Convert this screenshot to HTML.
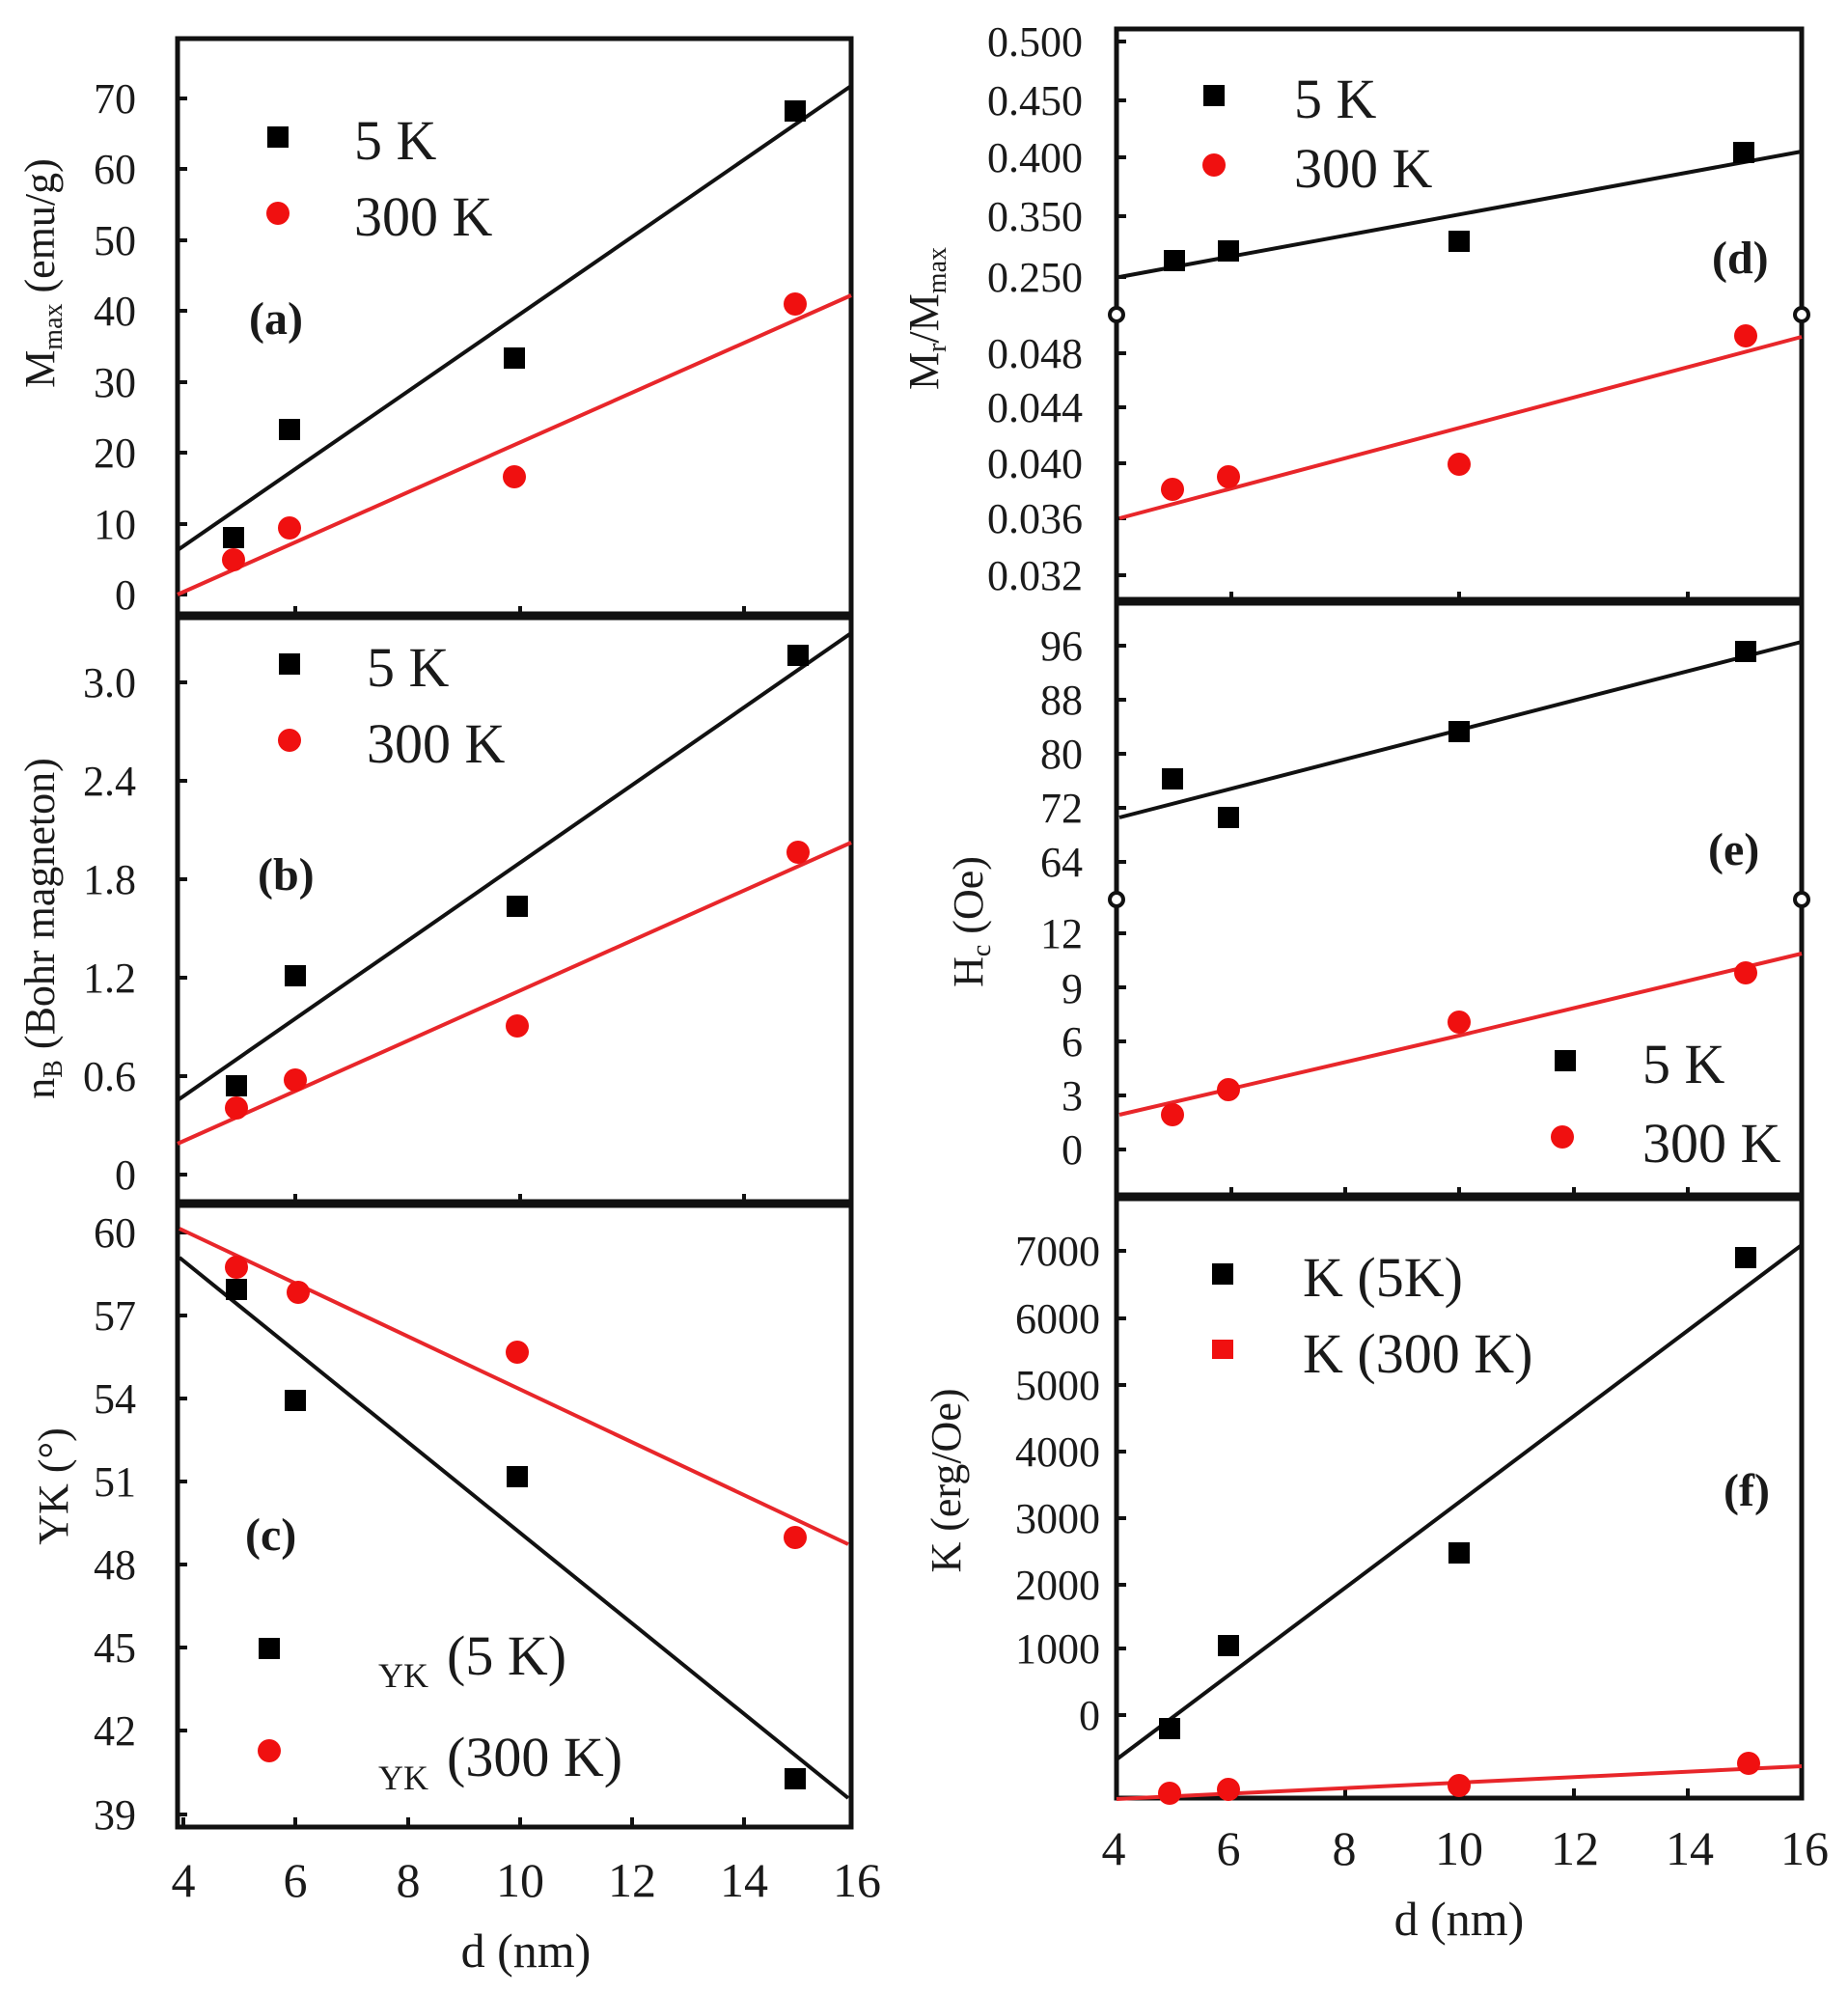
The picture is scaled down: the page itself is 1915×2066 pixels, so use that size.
<!DOCTYPE html>
<html><head><meta charset="utf-8"><style>
html,body{margin:0;padding:0;background:#fff;}
svg{display:block;}
text{font-family:"Liberation Serif",serif;fill:#1a1a1a;}
.t{font-size:44px;text-anchor:end;}
.x{font-size:50px;text-anchor:middle;}
.lg{font-size:58px;}
.pl{font-size:48px;font-weight:bold;}
.ti{font-size:44px;text-anchor:middle;}
</style></head><body>
<svg width="1915" height="2066" viewBox="0 0 1915 2066" xmlns="http://www.w3.org/2000/svg">
<rect width="1915" height="2066" fill="#fff"/>
<g fill="none" stroke="#111">
<!-- left column frames -->
<rect x="184" y="40" width="698" height="1853" stroke-width="5"/>
<line x1="184" y1="638" x2="882" y2="638" stroke-width="9"/>
<line x1="184" y1="1247" x2="882" y2="1247" stroke-width="9"/>
<!-- right column frames -->
<rect x="1157" y="30" width="710" height="1833" stroke-width="5"/>
<line x1="1157" y1="623" x2="1867" y2="623" stroke-width="9"/>
<line x1="1157" y1="1240" x2="1867" y2="1240" stroke-width="9"/>
</g>
<!-- ticks -->
<g stroke="#111" stroke-width="4">
<path d="M184 102h10M184 175h10M184 249h10M184 322h10M184 396h10M184 469h10M184 543h10M184 616h10"/>
<path d="M184 707h10M184 809h10M184 911h10M184 1013h10M184 1115h10M184 1217h10"/>
<path d="M184 1277h10M184 1363h10M184 1449h10M184 1535h10M184 1621h10M184 1707h10M184 1793h10M184 1880h10"/>
<path d="M190 1893v-10M306 1893v-10M423 1893v-10M539 1893v-10M655 1893v-10M771 1893v-10M306 1247v-10M539 1247v-10M771 1247v-10M306 638v-10M539 638v-10M771 638v-10"/>
<path d="M1157 43h10M1157 104h10M1157 163h10M1157 224h10M1157 287h10M1157 366h10M1157 422h10M1157 480h10M1157 537h10M1157 596h10"/>
<path d="M1157 669h10M1157 725h10M1157 781h10M1157 837h10M1157 893h10M1157 967h10M1157 1023h10M1157 1079h10M1157 1135h10M1157 1191h10"/>
<path d="M1157 1296h10M1157 1366h10M1157 1435h10M1157 1504h10M1157 1573h10M1157 1642h10M1157 1708h10M1157 1777h10"/>
<path d="M1276 1863v-10M1394 1863v-10M1512 1863v-10M1631 1863v-10M1749 1863v-10M1276 1240v-10M1394 1240v-10M1512 1240v-10M1631 1240v-10M1749 1240v-10M1276 623v-10M1512 623v-10M1749 623v-10"/>
</g>
<!-- break markers -->
<g fill="#fff" stroke="#111" stroke-width="4">
<circle cx="1157" cy="326" r="7"/><circle cx="1867" cy="326" r="7"/>
<circle cx="1157" cy="932" r="7"/><circle cx="1867" cy="932" r="7"/>
</g>

<!-- Panel (a) -->
<line x1="184" y1="570" x2="882" y2="89" stroke="#111" stroke-width="4"/>
<line x1="184" y1="616" x2="882" y2="306" stroke="#e8262a" stroke-width="4"/>
<g fill="#000"><rect x="231" y="546" width="22" height="22"/><rect x="289" y="434" width="22" height="22"/><rect x="522" y="360" width="22" height="22"/><rect x="813" y="104" width="22" height="22"/><rect x="277" y="131" width="22" height="22"/></g>
<g fill="#f01010"><circle cx="242" cy="580" r="12"/><circle cx="300" cy="547" r="12"/><circle cx="533" cy="494" r="12"/><circle cx="824" cy="315" r="12"/><circle cx="288" cy="221" r="12"/></g>
<text class="lg" x="367" y="165">5 K</text><text class="lg" x="367" y="244">300 K</text>
<text class="pl" x="258" y="346">(a)</text>
<g class="t"><text class="t" x="141" y="117">70</text><text class="t" x="141" y="190">60</text><text class="t" x="141" y="264">50</text><text class="t" x="141" y="337">40</text><text class="t" x="141" y="411">30</text><text class="t" x="141" y="484">20</text><text class="t" x="141" y="558">10</text><text class="t" x="141" y="631">0</text></g>
<text class="ti" transform="translate(56,283) rotate(-90)">M<tspan font-size="28" dy="8">max</tspan><tspan dy="-8"> (emu/g)</tspan></text>

<!-- Panel (b) -->
<line x1="184" y1="1140" x2="882" y2="656" stroke="#111" stroke-width="4"/>
<line x1="184" y1="1185" x2="882" y2="873" stroke="#e8262a" stroke-width="4"/>
<g fill="#000"><rect x="234" y="1114" width="22" height="22"/><rect x="295" y="1000" width="22" height="22"/><rect x="525" y="928" width="22" height="22"/><rect x="816" y="668" width="22" height="22"/><rect x="289" y="677" width="22" height="22"/></g>
<g fill="#f01010"><circle cx="245" cy="1148" r="12"/><circle cx="306" cy="1119" r="12"/><circle cx="536" cy="1063" r="12"/><circle cx="827" cy="883" r="12"/><circle cx="300" cy="767" r="12"/></g>
<text class="lg" x="380" y="711">5 K</text><text class="lg" x="380" y="790">300 K</text>
<text class="pl" x="267" y="922">(b)</text>
<text class="t" x="141" y="722">3.0</text><text class="t" x="141" y="824">2.4</text><text class="t" x="141" y="926">1.8</text><text class="t" x="141" y="1028">1.2</text><text class="t" x="141" y="1130">0.6</text><text class="t" x="141" y="1232">0</text>
<text class="ti" transform="translate(56,962) rotate(-90)">n<tspan font-size="28" dy="8">B</tspan><tspan dy="-8"> (Bohr magneton)</tspan></text>

<!-- Panel (c) -->
<line x1="186" y1="1303" x2="879" y2="1863" stroke="#111" stroke-width="4"/>
<line x1="186" y1="1273" x2="879" y2="1600" stroke="#e8262a" stroke-width="4"/>
<g fill="#000"><rect x="234" y="1325" width="22" height="22"/><rect x="295" y="1440" width="22" height="22"/><rect x="525" y="1519" width="22" height="22"/><rect x="813" y="1832" width="22" height="22"/><rect x="268" y="1697" width="22" height="22"/></g>
<g fill="#f01010"><circle cx="245" cy="1313" r="12"/><circle cx="309" cy="1339" r="12"/><circle cx="536" cy="1401" r="12"/><circle cx="824" cy="1593" r="12"/><circle cx="279" cy="1814" r="12"/></g>
<text x="392" y="1748" font-size="36">YK</text><text class="lg" x="463" y="1735">(5 K)</text>
<text x="392" y="1854" font-size="36">YK</text><text class="lg" x="463" y="1840">(300 K)</text>
<text class="pl" x="254" y="1606">(c)</text>
<text class="t" x="141" y="1292">60</text><text class="t" x="141" y="1378">57</text><text class="t" x="141" y="1464">54</text><text class="t" x="141" y="1550">51</text><text class="t" x="141" y="1636">48</text><text class="t" x="141" y="1722">45</text><text class="t" x="141" y="1808">42</text><text class="t" x="141" y="1895">39</text>
<text class="ti" transform="translate(70,1540) rotate(-90)">YK (°)</text>
<text class="x" x="190" y="1965">4</text><text class="x" x="306" y="1965">6</text><text class="x" x="423" y="1965">8</text><text class="x" x="539" y="1965">10</text><text class="x" x="655" y="1965">12</text><text class="x" x="771" y="1965">14</text><text class="x" x="888" y="1965">16</text>
<text class="x" x="545" y="2038">d (nm)</text>

<!-- Panel (d) -->
<line x1="1160" y1="287" x2="1867" y2="157" stroke="#111" stroke-width="4"/>
<line x1="1160" y1="537" x2="1867" y2="349" stroke="#e8262a" stroke-width="4"/>
<g fill="#000"><rect x="1206" y="259" width="22" height="22"/><rect x="1262" y="249" width="22" height="22"/><rect x="1501" y="239" width="22" height="22"/><rect x="1796" y="147" width="22" height="22"/><rect x="1247" y="88" width="22" height="22"/></g>
<g fill="#f01010"><circle cx="1215" cy="507" r="12"/><circle cx="1273" cy="494" r="12"/><circle cx="1512" cy="481" r="12"/><circle cx="1809" cy="348" r="12"/><circle cx="1258" cy="171" r="12"/></g>
<text class="lg" x="1341" y="122">5 K</text><text class="lg" x="1341" y="194">300 K</text>
<text class="pl" x="1774" y="283">(d)</text>
<text class="t" x="1122" y="58">0.500</text><text class="t" x="1122" y="119">0.450</text><text class="t" x="1122" y="178">0.400</text><text class="t" x="1122" y="239">0.350</text><text class="t" x="1122" y="302">0.250</text>
<text class="t" x="1122" y="381">0.048</text><text class="t" x="1122" y="437">0.044</text><text class="t" x="1122" y="495">0.040</text><text class="t" x="1122" y="552">0.036</text><text class="t" x="1122" y="611">0.032</text>
<text class="ti" transform="translate(972,330) rotate(-90)">M<tspan font-size="28" dy="8">r</tspan><tspan dy="-8">/M</tspan><tspan font-size="28" dy="8">max</tspan></text>

<!-- Panel (e) -->
<line x1="1160" y1="847" x2="1867" y2="665" stroke="#111" stroke-width="4"/>
<polyline points="1160,1155 1512,1073 1867,988" fill="none" stroke="#e8262a" stroke-width="4"/>
<g fill="#000"><rect x="1204" y="796" width="22" height="22"/><rect x="1262" y="836" width="22" height="22"/><rect x="1501" y="747" width="22" height="22"/><rect x="1798" y="664" width="22" height="22"/><rect x="1611" y="1088" width="22" height="22"/></g>
<g fill="#f01010"><circle cx="1215" cy="1155" r="12"/><circle cx="1273" cy="1129" r="12"/><circle cx="1512" cy="1059" r="12"/><circle cx="1809" cy="1008" r="12"/><circle cx="1619" cy="1178" r="12"/></g>
<text class="lg" x="1702" y="1122">5 K</text><text class="lg" x="1702" y="1204">300 K</text>
<text class="pl" x="1770" y="896">(e)</text>
<text class="t" x="1122" y="684">96</text><text class="t" x="1122" y="740">88</text><text class="t" x="1122" y="796">80</text><text class="t" x="1122" y="852">72</text><text class="t" x="1122" y="908">64</text>
<text class="t" x="1122" y="982">12</text><text class="t" x="1122" y="1039">9</text><text class="t" x="1122" y="1094">6</text><text class="t" x="1122" y="1150">3</text><text class="t" x="1122" y="1206">0</text>
<text class="ti" transform="translate(1018,955) rotate(-90)">H<tspan font-size="28" dy="8">c</tspan><tspan dy="-8"> (Oe)</tspan></text>

<!-- Panel (f) -->
<line x1="1157" y1="1823" x2="1867" y2="1290" stroke="#111" stroke-width="4"/>
<line x1="1157" y1="1864" x2="1867" y2="1830" stroke="#e8262a" stroke-width="4"/>
<g fill="#000"><rect x="1201" y="1780" width="22" height="22"/><rect x="1262" y="1694" width="22" height="22"/><rect x="1501" y="1598" width="22" height="22"/><rect x="1798" y="1292" width="22" height="22"/><rect x="1256" y="1309" width="22" height="22"/></g>
<g fill="#f01010"><circle cx="1212" cy="1858" r="12"/><circle cx="1273" cy="1854" r="12"/><circle cx="1512" cy="1850" r="12"/><circle cx="1812" cy="1827" r="12"/><rect x="1256" y="1388" width="22" height="20"/></g>
<text class="lg" x="1350" y="1343">K (5K)</text><text class="lg" x="1350" y="1422">K (300 K)</text>
<text class="pl" x="1786" y="1560">(f)</text>
<text class="t" x="1140" y="1311">7000</text><text class="t" x="1140" y="1381">6000</text><text class="t" x="1140" y="1450">5000</text><text class="t" x="1140" y="1519">4000</text><text class="t" x="1140" y="1588">3000</text><text class="t" x="1140" y="1657">2000</text><text class="t" x="1140" y="1723">1000</text><text class="t" x="1140" y="1792">0</text>
<text class="ti" transform="translate(995,1534) rotate(-90)">K (erg/Oe)</text>
<text class="x" x="1154" y="1932">4</text><text class="x" x="1273" y="1932">6</text><text class="x" x="1393" y="1932">8</text><text class="x" x="1512" y="1932">10</text><text class="x" x="1632" y="1932">12</text><text class="x" x="1751" y="1932">14</text><text class="x" x="1870" y="1932">16</text>
<text class="x" x="1512" y="2005">d (nm)</text>
</svg>
</body></html>
